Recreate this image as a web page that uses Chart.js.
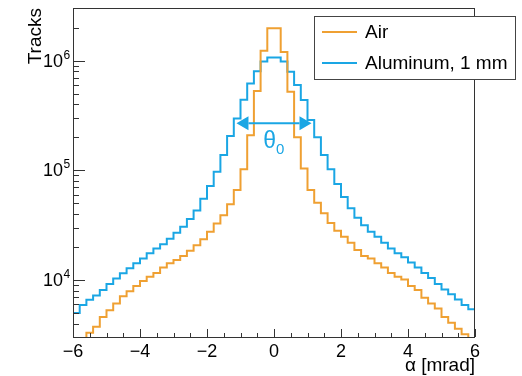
<!DOCTYPE html>
<html>
<head>
<meta charset="utf-8">
<script src="https://cdn.jsdelivr.net/npm/chart.js@4/dist/chart.umd.min.js"></script>
<style>
  html, body { margin: 0; padding: 0; background: #fff; }
  canvas { display: block; }
</style>
</head>
<body>
<canvas id="alpha-chart" width="522" height="376"></canvas>
<script>
// Histogram binning (60 bins of 0.2 mrad)
const binLow = -6;
const binHigh = 6;
const binWidth = 0.2;

// Tracks per bin
const airCounts = [
    2800, 2950, 3300, 3740, 4600, 5300, 6100, 7100, 7900, 8800,
    9800, 10700, 11600, 13000, 14200, 15200, 16500, 18500, 20700, 23500,
    27500, 32800, 39000, 49000, 66000, 102000, 209000, 530000, 1230000, 1970000,
    1970000, 1200000, 520000, 200000, 104000, 66000, 50600, 40500, 33000, 28100,
    24800, 21900, 18800, 16500, 15700, 14200, 13000, 11600, 10700, 10100,
    8800, 8100, 6900, 6100, 5500, 4600, 4070, 3600, 3200, 2900
];
const aluCounts = [
    5000, 5900, 6600, 7200, 8100, 9200, 10300, 11500, 12800, 14200,
    15700, 17500, 19400, 21200, 23800, 27000, 30500, 36000, 43000, 55000,
    72000, 97000, 138000, 205000, 297000, 440000, 620000, 800000, 980000, 1070000,
    1070000, 980000, 790000, 600000, 437000, 287000, 200000, 138000, 102000, 75000,
    57000, 45000, 37000, 31600, 27500, 24800, 21900, 19400, 17500, 16100,
    14400, 13000, 11600, 10400, 9200, 8200, 7400, 6650, 5900, 5400
];

// Axis ranges and tick values
const yMin = 3020;
const yMax = 3.02e6;
const xTickStep = 2;
const xMinorStep = 0.5;
const yDecades = [4, 5, 6];

// theta_0 marker
const thetaHalfWidth = 1.12;
const thetaLevel = 2.68e5;

const airColor = '#EFA032';
const aluColor = '#1AA6E4';
const FONT = '"Liberation Sans", Arial, Helvetica, sans-serif';

const binEdges = airCounts.map((_, i) => +(binLow + i * binWidth).toFixed(1));

// step points: left edge of every bin, closed down to the frame at both ends
function histPoints(counts) {
    const pts = [{ x: binLow, y: 1 }];
    counts.forEach((c, i) => pts.push({ x: binEdges[i], y: c }));
    pts.push({ x: binHigh, y: counts[counts.length - 1] });
    pts.push({ x: binHigh, y: 1 });
    return pts;
}

const rootStyle = {
    id: 'rootStyle',
    afterDatasetsDraw(chart) {
        const { ctx, chartArea: a, scales } = chart;
        const xs = scales.x, ys = scales.y;
        ctx.save();

        // frame
        ctx.strokeStyle = '#333';
        ctx.lineWidth = 1;
        ctx.strokeRect(a.left + 0.5, a.top + 0.5, a.right - a.left - 1, a.bottom - a.top);

        // x ticks (inside)
        ctx.beginPath();
        for (let v = binLow; v <= binHigh + 1e-9; v += xMinorStep) {
            const px = Math.round(xs.getPixelForValue(v)) + 0.5;
            const major = Math.abs(v / xTickStep - Math.round(v / xTickStep)) < 1e-9;
            ctx.moveTo(px, a.bottom);
            ctx.lineTo(px, a.bottom - (major ? 8 : 4));
        }
        // y ticks (inside)
        for (let e = 3; e <= 6; e++) {
            for (let m = 1; m <= 9; m++) {
                const v = m * Math.pow(10, e);
                if (v < yMin || v > yMax) continue;
                const py = Math.round(ys.getPixelForValue(v)) + 0.5;
                ctx.moveTo(a.left, py);
                ctx.lineTo(a.left + (m === 1 ? 12 : 6), py);
            }
        }
        ctx.stroke();

        // y labels 10^n
        ctx.fillStyle = '#000';
        yDecades.forEach(e => {
            const py = ys.getPixelForValue(Math.pow(10, e));
            ctx.font = '18px ' + FONT;
            ctx.textAlign = 'right';
            ctx.textBaseline = 'middle';
            ctx.fillText('10', 63, py + 1);
            ctx.font = '12px ' + FONT;
            ctx.textAlign = 'left';
            ctx.textBaseline = 'alphabetic';
            ctx.fillText(String(e), 63.5, py - 2);
        });

        // axis titles
        ctx.font = '19px ' + FONT;
        ctx.textAlign = 'right';
        ctx.textBaseline = 'alphabetic';
        ctx.fillText('\u03B1 [mrad]', a.right, 371);
        ctx.save();
        ctx.translate(41, a.top);
        ctx.rotate(-Math.PI / 2);
        ctx.textAlign = 'right';
        ctx.fillText('Tracks', 0, 0);
        ctx.restore();

        // theta_0 double arrow
        const x1 = xs.getPixelForValue(-thetaHalfWidth);
        const x2 = xs.getPixelForValue(thetaHalfWidth);
        const ay = ys.getPixelForValue(thetaLevel);
        const head = 12, hw = 7;
        ctx.strokeStyle = aluColor;
        ctx.fillStyle = aluColor;
        ctx.lineWidth = 2;
        ctx.beginPath();
        ctx.moveTo(x1 + head, ay);
        ctx.lineTo(x2 - head, ay);
        ctx.stroke();
        ctx.beginPath();
        ctx.moveTo(x1, ay); ctx.lineTo(x1 + head, ay - hw); ctx.lineTo(x1 + head, ay + hw); ctx.closePath();
        ctx.moveTo(x2, ay); ctx.lineTo(x2 - head, ay - hw); ctx.lineTo(x2 - head, ay + hw); ctx.closePath();
        ctx.fill();
        const tx = xs.getPixelForValue(0);
        ctx.font = '23px ' + FONT;
        ctx.textAlign = 'right';
        ctx.fillText('\u03B8', tx + 2, ay + 25);
        ctx.font = '15px ' + FONT;
        ctx.textAlign = 'left';
        ctx.fillText('0', tx + 2, ay + 31);

        // legend box
        const lx = 314, ly = 16, lw = 201, lh = 63;
        ctx.fillStyle = '#fff';
        ctx.fillRect(lx, ly, lw, lh);
        ctx.strokeStyle = '#444';
        ctx.lineWidth = 1;
        ctx.strokeRect(lx + 0.5, ly + 0.5, lw, lh);
        ctx.font = '19px ' + FONT;
        ctx.textBaseline = 'middle';
        chart.data.datasets.forEach((ds, i) => {
            const rowY = ly + 16 + i * 31;
            ctx.strokeStyle = ds.borderColor;
            ctx.lineWidth = 2;
            ctx.beginPath();
            ctx.moveTo(lx + 8, rowY);
            ctx.lineTo(lx + 43, rowY);
            ctx.stroke();
            ctx.fillStyle = '#000';
            ctx.fillText(ds.label, lx + 51, rowY + 1);
        });
        ctx.restore();
    }
};

new Chart(document.getElementById('alpha-chart'), {
    type: 'line',
    data: {
        datasets: [
            { label: 'Air', data: histPoints(airCounts), borderColor: airColor },
            { label: 'Aluminum, 1 mm', data: histPoints(aluCounts), borderColor: aluColor }
        ]
    },
    options: {
        responsive: false,
        animation: false,
        elements: {
            line: { borderWidth: 2, tension: 0, fill: false, stepped: 'before' },
            point: { radius: 0, hoverRadius: 0 }
        },
        layout: { padding: { top: 8, right: 47, left: 0, bottom: 0 } },
        plugins: { legend: { display: false }, tooltip: { enabled: false } },
        scales: {
            x: {
                type: 'linear',
                min: binLow,
                max: binHigh,
                grid: { display: false, drawTicks: false },
                border: { display: false },
                ticks: {
                    stepSize: xTickStep,
                    color: '#000',
                    padding: 4,
                    font: { size: 18, family: FONT },
                    callback: v => (v < 0 ? '\u2212' + Math.abs(v) : String(v))
                },
                afterFit: s => { s.height = 39; }
            },
            y: {
                type: 'logarithmic',
                min: yMin,
                max: yMax,
                grid: { display: false, drawTicks: false },
                border: { display: false },
                ticks: { display: false },
                afterFit: s => { s.width = 73; }
            }
        }
    },
    plugins: [rootStyle]
});
</script>
</body>
</html>
